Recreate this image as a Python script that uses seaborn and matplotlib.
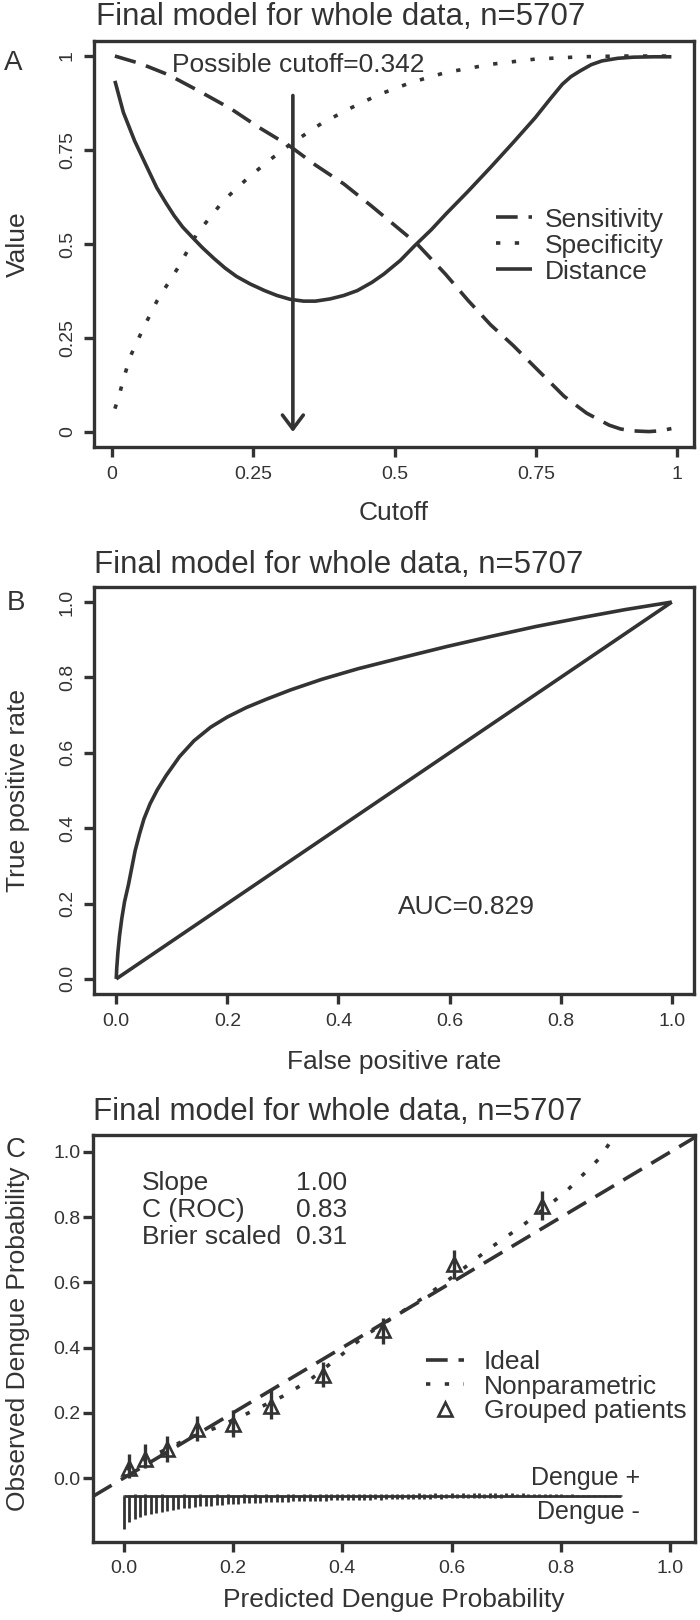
import numpy as np
import matplotlib
matplotlib.use("Agg")
import matplotlib.pyplot as plt
from matplotlib.lines import Line2D
import seaborn as sns

# ---------------- panel A: cutoff curves ----------------
sens_cut = [0.005, 0.05, 0.10, 0.15, 0.21, 0.26, 0.315, 0.36, 0.41, 0.46, 0.50, 0.54,
            0.59, 0.63, 0.67, 0.71, 0.75, 0.80, 0.84, 0.88, 0.90, 0.92, 0.95, 0.97, 0.99]
sens_val = [1.0, 0.98, 0.95, 0.91, 0.86, 0.81, 0.76, 0.71, 0.66, 0.60, 0.55, 0.50,
            0.42, 0.35, 0.285, 0.23, 0.17, 0.095, 0.05, 0.018, 0.008, 0.003, 0.001,
            0.003, 0.009]
spec_cut = [0.005, 0.012, 0.022, 0.032, 0.055, 0.08, 0.118, 0.15, 0.197, 0.24, 0.276,
            0.315, 0.37, 0.42, 0.473, 0.53, 0.59, 0.67, 0.75, 0.83, 0.90, 0.99]
spec_val = [0.062, 0.095, 0.15, 0.20, 0.275, 0.35, 0.44, 0.527, 0.615, 0.675, 0.72,
            0.765, 0.82, 0.86, 0.898, 0.93, 0.956, 0.978, 0.992, 0.998, 1.0, 1.0]
dist_cut = [0.005, 0.02, 0.04, 0.06, 0.079, 0.095, 0.11, 0.125, 0.142, 0.16, 0.18,
            0.20, 0.22, 0.244, 0.27, 0.292, 0.315, 0.339, 0.36, 0.386, 0.41, 0.434,
            0.46, 0.481, 0.51, 0.536, 0.565, 0.591, 0.63, 0.67, 0.71, 0.749, 0.775,
            0.797, 0.812, 0.828, 0.848, 0.867, 0.895, 0.923, 0.96, 0.99]
dist_val = [0.934, 0.85, 0.774, 0.71, 0.65, 0.61, 0.575, 0.545, 0.518, 0.49, 0.462,
            0.436, 0.414, 0.394, 0.376, 0.363, 0.353, 0.348, 0.348, 0.354, 0.363, 0.376,
            0.398, 0.42, 0.456, 0.496, 0.538, 0.58, 0.64, 0.704, 0.77, 0.836, 0.885,
            0.925, 0.945, 0.96, 0.977, 0.987, 0.994, 0.997, 0.998, 0.998]
best_cutoff = 0.342
arrow_x = 0.32
arrow_top = 0.895

# ---------------- panel B: ROC ----------------
roc_fpr = [0.0, 0.001, 0.003, 0.006, 0.01, 0.015, 0.022, 0.028, 0.034, 0.042, 0.05,
           0.061, 0.074, 0.09, 0.114, 0.14, 0.17, 0.20, 0.234, 0.27, 0.314, 0.37,
           0.435, 0.51, 0.595, 0.675, 0.755, 0.835, 0.916, 1.0]
roc_tpr = [0.0, 0.03, 0.07, 0.115, 0.16, 0.205, 0.25, 0.295, 0.34, 0.385, 0.425,
           0.465, 0.502, 0.54, 0.59, 0.632, 0.668, 0.695, 0.72, 0.742, 0.767, 0.795,
           0.823, 0.851, 0.882, 0.909, 0.935, 0.958, 0.98, 1.0]
chance = [0.0, 1.0]
auc = 0.829

# ---------------- panel C: calibration ----------------
np_pred = [0.005, 0.04, 0.08, 0.12, 0.17, 0.22, 0.29, 0.34, 0.40, 0.44, 0.50, 0.55,
           0.60, 0.67, 0.73, 0.78, 0.81, 0.84, 0.87, 0.89]
np_obs = [0.028, 0.058, 0.09, 0.123, 0.155, 0.193, 0.25, 0.30, 0.38, 0.435, 0.50, 0.555,
          0.615, 0.705, 0.775, 0.84, 0.88, 0.93, 0.98, 1.03]
grp_pred = [0.01, 0.04, 0.08, 0.135, 0.20, 0.27, 0.365, 0.475, 0.605, 0.765]
grp_obs = [0.03, 0.06, 0.09, 0.15, 0.165, 0.22, 0.315, 0.455, 0.655, 0.835]
grp_lo = [0.0, 0.03, 0.05, 0.115, 0.125, 0.18, 0.28, 0.41, 0.61, 0.79]
grp_hi = [0.075, 0.105, 0.13, 0.19, 0.21, 0.27, 0.355, 0.49, 0.70, 0.88]
stat_names = ["Slope", "C (ROC)", "Brier scaled"]
stat_vals = ["1.00", "0.83", "0.31"]

spike_x = np.round(np.arange(0.0, 0.915, 0.01), 2)
spike_neg = [0.100, 0.080, 0.072, 0.064, 0.058, 0.055, 0.052, 0.048, 0.046, 0.044,
             0.040, 0.038, 0.036, 0.035, 0.032, 0.030, 0.030, 0.028, 0.027, 0.026, 0.025,
             0.024, 0.022, 0.022, 0.021, 0.020, 0.019, 0.018, 0.018, 0.017, 0.017,
             0.016, 0.016, 0.015, 0.015, 0.014, 0.014, 0.014, 0.013, 0.013, 0.013,
             0.012, 0.012, 0.011, 0.012, 0.011, 0.010, 0.011, 0.010, 0.010, 0.009,
             0.009, 0.009, 0.008, 0.009, 0.008, 0.008, 0.007, 0.008, 0.007, 0.007,
             0.006, 0.007, 0.006, 0.006, 0.005, 0.006, 0.005, 0.005, 0.005, 0.004,
             0.004, 0.004, 0.004, 0.003, 0.004, 0.003, 0.003, 0.003, 0.003, 0.002,
             0.002, 0.003, 0.002, 0.002, 0.002, 0.002, 0.001, 0.002, 0.001, 0.001, 0.001]
spike_pos = [0.004, 0.004, 0.005, 0.004, 0.005, 0.004, 0.004, 0.005, 0.004, 0.004,
             0.004, 0.005, 0.004, 0.004, 0.005, 0.004, 0.004, 0.005, 0.004, 0.005, 0.004,
             0.004, 0.005, 0.004, 0.005, 0.004, 0.005, 0.004, 0.005, 0.004, 0.005,
             0.005, 0.004, 0.005, 0.005, 0.004, 0.005, 0.006, 0.005, 0.005, 0.006,
             0.005, 0.006, 0.005, 0.006, 0.005, 0.006, 0.006, 0.005, 0.007, 0.006,
             0.006, 0.007, 0.006, 0.008, 0.006, 0.007, 0.008, 0.006, 0.007, 0.008,
             0.007, 0.008, 0.007, 0.008, 0.008, 0.007, 0.008, 0.008, 0.007, 0.008,
             0.008, 0.007, 0.008, 0.007, 0.006, 0.007, 0.006, 0.005, 0.006, 0.005,
             0.004, 0.005, 0.004, 0.004, 0.003, 0.004, 0.003, 0.003, 0.002, 0.003, 0.002]
spike_base = -0.055

TITLE = "Final model for whole data, n=5707"
INK = "#333333"

sns.set_theme(style="ticks")
plt.rcParams["font.family"] = ["Liberation Sans", "DejaVu Sans"]
plt.rcParams.update({
    "axes.edgecolor": INK, "axes.linewidth": 2.4, "axes.labelcolor": INK,
    "text.color": INK, "xtick.color": INK, "ytick.color": INK,
    "xtick.major.width": 2.4, "ytick.major.width": 2.4,
    "xtick.major.size": 7, "ytick.major.size": 7,
    "xtick.labelsize": 14, "ytick.labelsize": 14, "axes.labelsize": 19,
    "lines.solid_capstyle": "butt",
})

W, H = 700, 1620
fig = plt.figure(figsize=(W / 100, H / 100), dpi=100)


def panel(l, t, r, b):
    return fig.add_axes([l / W, 1 - b / H, (r - l) / W, (b - t) / H])


axA = panel(94, 41, 694, 447)
axB = panel(94, 587, 694, 994)
axC = panel(93, 1135, 695, 1542)

DASH = (0, (6, 3))
DOT = (0, (1.2, 4))
LW = 2.6

# ------------------- Panel A -------------------
sns.lineplot(x=sens_cut, y=sens_val, ax=axA, color=INK, lw=LW, linestyle=DASH,
             estimator=None, sort=False)
sns.lineplot(x=spec_cut, y=spec_val, ax=axA, color=INK, lw=LW, linestyle=DOT,
             estimator=None, sort=False)
sns.lineplot(x=dist_cut, y=dist_val, ax=axA, color=INK, lw=LW,
             estimator=None, sort=False)
axA.annotate("", xy=(arrow_x, 0), xytext=(arrow_x, arrow_top),
             arrowprops=dict(arrowstyle="->,head_length=0.4,head_width=0.3",
                             mutation_scale=25, lw=LW, color=INK,
                             shrinkA=0, shrinkB=0))
axA.text(0.33, 0.975, f"Possible cutoff={best_cutoff}", ha="center", va="center",
         fontsize=19)
axA.set_xlim(-0.032, 1.03)
axA.set_ylim(-0.04, 1.04)
axA.set_xticks([0, 0.25, 0.5, 0.75, 1])
axA.set_xticklabels(["0", "0.25", "0.5", "0.75", "1"])
axA.set_yticks([0, 0.25, 0.5, 0.75, 1])
axA.set_yticklabels(["0", "0.25", "0.5", "0.75", "1"])
handlesA = [Line2D([], [], color=INK, lw=LW, linestyle=DASH),
            Line2D([], [], color=INK, lw=LW, linestyle=DOT),
            Line2D([], [], color=INK, lw=LW)]
axA.legend(handlesA, ["Sensitivity", "Specificity", "Distance"], loc="center left",
           bbox_to_anchor=(0.67, 0.496), frameon=False, fontsize=19, borderpad=0,
           borderaxespad=0, handlelength=1.36, handletextpad=0.5, labelspacing=0.08)
axA.set_xlabel("Cutoff", va="center")
axA.set_ylabel("Value", va="center")
axA.xaxis.set_label_coords(0.5, -0.163)
axA.yaxis.set_label_coords(-0.127, 0.5)
axA.text(0.003, 1.059, TITLE, transform=axA.transAxes, ha="left", va="center",
         fontsize=22.5)

# ------------------- Panel B -------------------
sns.lineplot(x=roc_fpr, y=roc_tpr, ax=axB, color=INK, lw=LW, estimator=None, sort=False)
sns.lineplot(x=chance, y=chance, ax=axB, color=INK, lw=LW, estimator=None, sort=False)
axB.text(0.63, 0.19, f"AUC={auc}", ha="center", va="center", fontsize=19)
axB.set_xlim(-0.04, 1.04)
axB.set_ylim(-0.04, 1.04)
ticksB = [0.0, 0.2, 0.4, 0.6, 0.8, 1.0]
axB.set_xticks(ticksB)
axB.set_xticklabels([f"{t:.1f}" for t in ticksB])
axB.set_yticks(ticksB)
axB.set_yticklabels([f"{t:.1f}" for t in ticksB])
axB.set_xlabel("False positive rate", va="center")
axB.set_ylabel("True positive rate", va="center")
axB.xaxis.set_label_coords(0.5, -0.167)
axB.yaxis.set_label_coords(-0.127, 0.5)
axB.text(0.0, 1.054, TITLE, transform=axB.transAxes, ha="left", va="center",
         fontsize=22.5)

for ax in (axA, axB):
    for t in ax.get_yticklabels():
        t.set_rotation(90)
        t.set_va("center")
    ax.tick_params(axis="x", pad=7)
    ax.tick_params(axis="y", pad=6)

# ------------------- Panel C -------------------
axC.axline((0, 0), slope=1, color=INK, lw=LW, linestyle=DASH)
sns.lineplot(x=np_pred, y=np_obs, ax=axC, color=INK, lw=LW, linestyle=DOT,
             estimator=None, sort=False)
obs = np.array(grp_obs)
axC.errorbar(grp_pred, grp_obs, yerr=[obs - np.array(grp_lo), np.array(grp_hi) - obs],
             fmt="^", mfc="none", mec=INK, ms=10, mew=1.9, ecolor=INK,
             elinewidth=2.4, capsize=0)
axC.vlines(spike_x, spike_base - np.array(spike_neg), spike_base, color=INK, lw=2)
axC.vlines(spike_x, spike_base, spike_base + np.array(spike_pos), color=INK, lw=2)
axC.hlines(spike_base, spike_x[0], spike_x[-1], color=INK, lw=2)
axC.text(0.944, 0.0, "Dengue +", ha="right", va="center", fontsize=18)
axC.text(0.944, -0.103, "Dengue -", ha="right", va="center", fontsize=18)
for name, val, y in zip(stat_names, stat_vals, [0.905, 0.822, 0.739]):
    axC.text(0.033, y, name, ha="left", va="center", fontsize=19)
    axC.text(0.316, y, val, ha="left", va="center", fontsize=19)
handlesC = [Line2D([], [], color=INK, lw=LW, linestyle=DASH),
            Line2D([], [], color=INK, lw=LW, linestyle=DOT),
            Line2D([], [], color=INK, lw=0, marker="^", mfc="none", mec=INK,
                   ms=10, mew=1.9)]
axC.legend(handlesC, ["Ideal", "Nonparametric", "Grouped patients"], loc="center left",
           bbox_to_anchor=(0.553, 0.3816), frameon=False, fontsize=19, borderpad=0,
           borderaxespad=0, handlelength=1.44, handletextpad=0.76, labelspacing=0.02)
axC.set_xlim(-0.056, 1.045)
axC.set_ylim(-0.196, 1.052)
ticksC = [0.0, 0.2, 0.4, 0.6, 0.8, 1.0]
axC.set_xticks(ticksC)
axC.set_xticklabels([f"{t:.1f}" for t in ticksC])
axC.set_yticks(ticksC)
axC.set_yticklabels([f"{t:.1f}" for t in ticksC])
axC.tick_params(axis="x", pad=6)
axC.tick_params(axis="y", pad=2)
axC.set_xlabel("Predicted Dengue Probability", va="center")
axC.set_ylabel("Observed Dengue Probability", va="center")
axC.xaxis.set_label_coords(0.5, -0.1425)
axC.yaxis.set_label_coords(-0.125, 0.5)
axC.text(0.0, 1.0565, TITLE, transform=axC.transAxes, ha="left", va="center",
         fontsize=22.5)

for ax in (axA, axB, axC):
    for s in ax.spines.values():
        s.set_visible(True)

fig.text(13 / W, 1 - 63 / H, "A", ha="center", va="center", fontsize=20)
fig.text(16 / W, 1 - 603 / H, "B", ha="center", va="center", fontsize=20)
fig.text(16 / W, 1 - 1150 / H, "C", ha="center", va="center", fontsize=20)

fig.savefig("out.png", dpi=100)
plt.close(fig)
